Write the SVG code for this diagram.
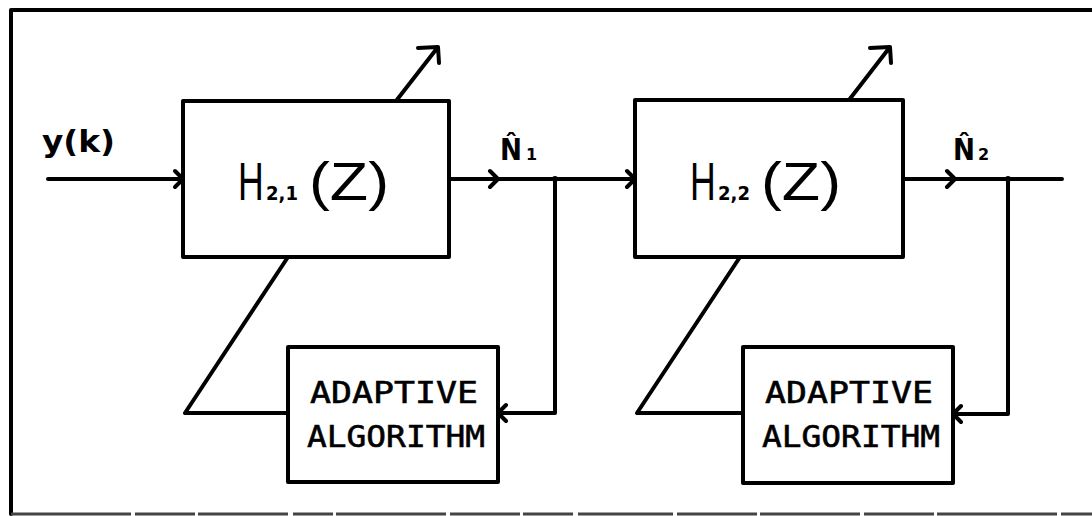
<svg xmlns="http://www.w3.org/2000/svg" width="1092" height="516" viewBox="0 0 1092 516">
<style>
.ln{fill:none;stroke:#000;stroke-width:4;stroke-linejoin:round;stroke-linecap:round}
.bx{fill:#fff;stroke:#000;stroke-width:4;stroke-linejoin:round}
.big{font-family:"Liberation Sans",Arial,sans-serif;font-size:54px;fill:#000}
.sb{font-family:"DejaVu Sans","Liberation Sans",sans-serif;font-weight:bold;font-size:19px;fill:#000}
.sub{font-family:"DejaVu Sans","Liberation Sans",sans-serif;font-weight:bold;font-size:16px;fill:#000}
.alg{font-family:"DejaVu Sans Mono","Liberation Mono",monospace;font-size:31px;fill:#000;stroke:#000;stroke-width:0.6}
.lbl{font-family:"DejaVu Sans","Liberation Sans",sans-serif;font-weight:bold;font-size:31px;fill:#000}
</style>
<rect width="1092" height="516" fill="#fff"/>
<g id="frame">
<path class="ln" d="M11 514 V10 H1092"/>
<path d="M11 514 H1092" fill="none" stroke="#444" stroke-width="3" stroke-dasharray="120 4 60 3 90 5 40 3 110 4 70 3 50 5 95 4 80 3 100 4 70 3"/>
</g>
<g id="connectors">
<path class="ln" d="M48 179 H183 M175 171 L183 179 L175 187"/>
<path class="ln" d="M449 179 H635 M490 171 L498 179 L490 187 M627 171 L635 179 L627 187"/>
<path class="ln" d="M555 179 V413 H498 M506 405 L498 413 L506 421"/>
<circle cx="555" cy="179" r="3" fill="#000"/>
<path class="ln" d="M288 257 L185 413 H288"/>
<path class="ln" d="M396 101 L438 47 M418 48 L438 47 L439 63"/>
<path class="ln" d="M903 179 H1062 M947 171 L955 179 L947 187"/>
<path class="ln" d="M1008 179 V414 H953 M961 406 L953 414 L961 422"/>
<circle cx="1008" cy="179" r="3" fill="#000"/>
<path class="ln" d="M740 257 L637 413 H743"/>
<path class="ln" d="M849 100 L890 47 M870 48 L890 47 L891 63"/>
</g>
<g id="input-label">
<text class="lbl" x="42" y="152" font-size="26" textLength="73" lengthAdjust="spacingAndGlyphs">y(k)</text>
</g>
<g id="n1-label">
<text class="lbl" y="160"><tspan x="500" textLength="22" lengthAdjust="spacingAndGlyphs">N̂</tspan><tspan class="sub" x="526">1</tspan></text>
</g>
<g id="n2-label">
<text class="lbl" y="160"><tspan x="953" textLength="22" lengthAdjust="spacingAndGlyphs">N̂</tspan><tspan class="sub" x="978">2</tspan></text>
</g>
<g id="filter1">
<rect class="bx" x="183" y="101" width="266" height="156"/>
<text class="big" transform="translate(238 200) scale(0.66 1)">H</text>
<text class="sb" x="266" y="200" textLength="32" lengthAdjust="spacingAndGlyphs">2,1</text>
<text class="big" x="309" y="200" textLength="80" lengthAdjust="spacingAndGlyphs">(Z)</text>
</g>
<g id="filter2">
<rect class="bx" x="635" y="100" width="268" height="157"/>
<text class="big" transform="translate(690 200) scale(0.66 1)">H</text>
<text class="sb" x="718" y="200" textLength="32" lengthAdjust="spacingAndGlyphs">2,2</text>
<text class="big" x="761" y="200" textLength="80" lengthAdjust="spacingAndGlyphs">(Z)</text>
</g>
<g id="adaptive1">
<rect class="bx" x="288" y="347" width="210" height="135"/>
<text class="alg" x="310" y="403" textLength="168" lengthAdjust="spacingAndGlyphs">ADAPTIVE</text>
<text class="alg" x="307" y="447" textLength="178" lengthAdjust="spacingAndGlyphs">ALGORITHM</text>
</g>
<g id="adaptive2">
<rect class="bx" x="743" y="347" width="210" height="136"/>
<text class="alg" x="765" y="403" textLength="168" lengthAdjust="spacingAndGlyphs">ADAPTIVE</text>
<text class="alg" x="762" y="447" textLength="178" lengthAdjust="spacingAndGlyphs">ALGORITHM</text>
</g>
</svg>
